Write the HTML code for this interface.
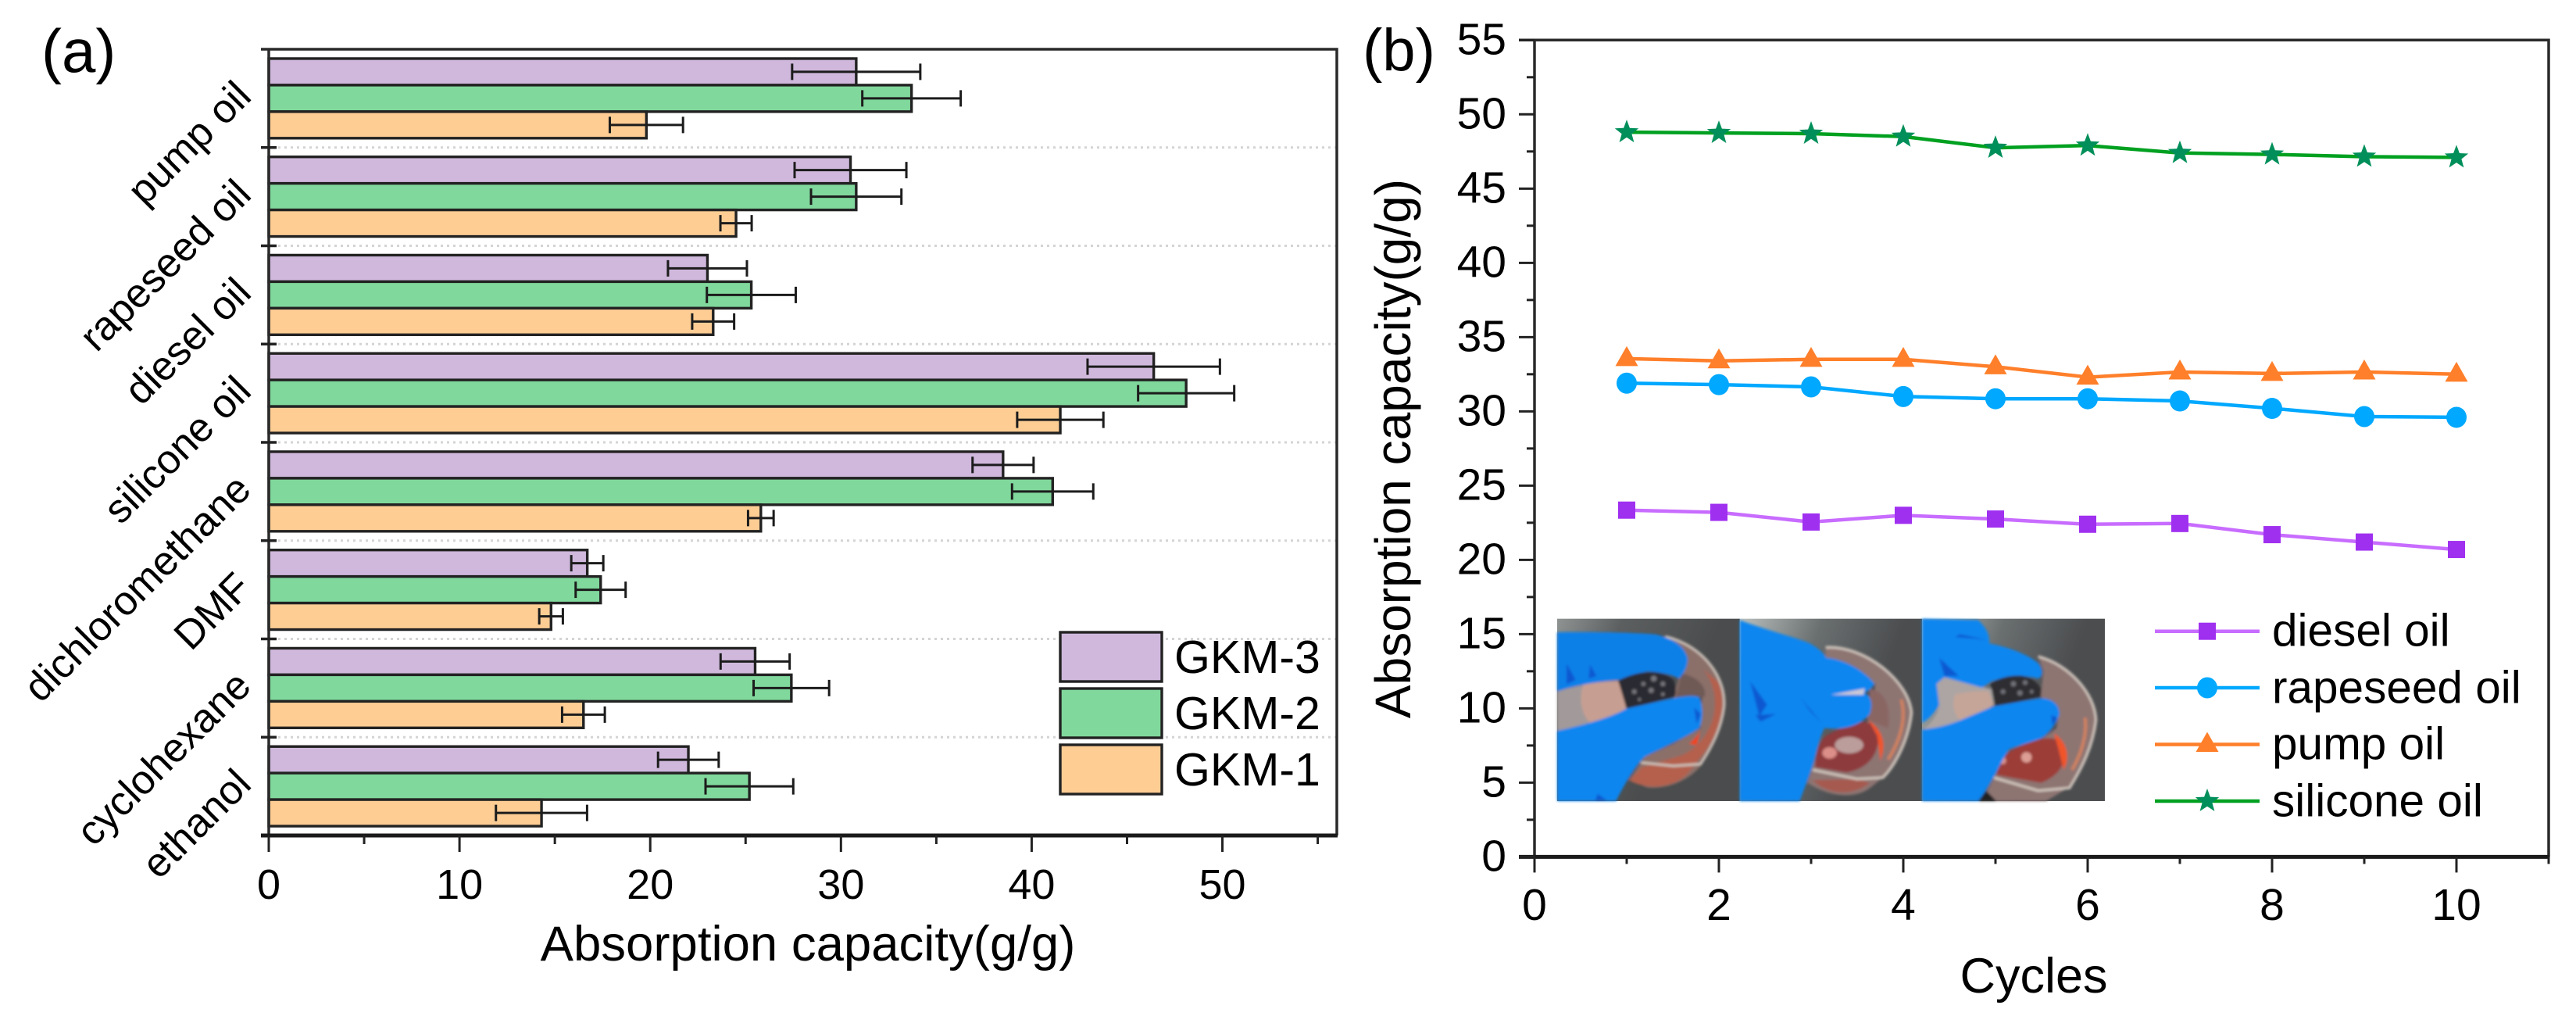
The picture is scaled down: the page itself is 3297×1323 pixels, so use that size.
<!DOCTYPE html>
<html lang="en">
<head>
<meta charset="utf-8">
<title>Absorption capacity charts</title>
<style>
html,body{margin:0;padding:0;background:#fff;}
#figure{display:block;width:3297px;height:1323px;font-family:"Liberation Sans",sans-serif;fill:#000;}
</style>
</head>
<body>
<svg id="figure" xmlns="http://www.w3.org/2000/svg" width="3297" height="1323" viewBox="0 0 3297 1323">
  <defs>
    <filter id="soft" x="-5%" y="-5%" width="110%" height="110%"><feGaussianBlur stdDeviation="5"/></filter>
    <filter id="softer" x="-20%" y="-20%" width="140%" height="140%"><feGaussianBlur stdDeviation="12"/></filter>
    <linearGradient id="bg1" x1="0" y1="0" x2="0.75" y2="0.35"><stop offset="0" stop-color="#8f9493"/><stop offset="0.4" stop-color="#5c5f60"/><stop offset="1" stop-color="#4a4c4d"/></linearGradient>
    <linearGradient id="bg2" x1="0" y1="0" x2="0.8" y2="0.3"><stop offset="0" stop-color="#b9bfbd"/><stop offset="0.5" stop-color="#6a6f70"/><stop offset="1" stop-color="#4b4d4f"/></linearGradient>
  </defs>
  <rect width="3297" height="1323" fill="#fff"/>
  <g id="chartA"></g>
  <g id="chartB"></g>
  <g id="inset">
    <g transform="translate(1985,785) scale(0.3333)">
      <rect x="24" y="20" width="702" height="700" fill="url(#bg1)"/>
      <g filter="url(#soft)">
        <path d="M430,85 C570,110 665,240 668,350 C665,430 620,520 575,585 C530,640 450,675 370,668 L300,640 L360,550 L470,500 L575,440 L580,320 L470,325 L490,250 L525,170 Z" fill="#8b6f69"/>
        <path d="M500,230 C560,240 600,280 590,320 L480,325 Z" fill="#6f5a56"/>
        <path d="M585,215 C630,270 640,340 620,410 C600,470 560,520 500,545 L350,590 L300,640 C370,680 470,670 525,615 L600,520 C650,440 680,340 640,260 Z" fill="#b4604e"/>
        <path d="M530,500 C555,480 570,460 575,445 L560,505 Z" fill="#f0431a"/>
        <path d="M440,88 C590,125 675,250 665,360 C655,440 620,510 575,578 L470,585 L345,572" fill="none" stroke="#cfc4bc" stroke-width="9"/>
        <path d="M24,300 C80,280 180,262 262,258 L290,365 C230,400 120,430 24,450 Z" fill="#a29a9a"/>
        <path d="M125,272 C170,264 220,260 262,258 L290,365 C250,385 200,405 150,418 C110,380 110,310 125,272 Z" fill="#c79f92"/>
        <path d="M24,72 C150,70 300,72 400,80 C450,90 510,115 525,170 C528,205 505,240 490,250 C470,235 420,225 370,222 L260,255 C180,262 90,275 24,300 Z" fill="#0c80e8"/>
        <path d="M24,450 C120,430 230,400 290,365 L470,325 C510,318 550,312 570,322 C585,350 585,410 570,440 C530,470 420,520 360,550 C320,590 280,660 250,720 L24,720 Z" fill="#0a86f0"/>
        <path d="M60,190 L95,255 L60,272 Z M150,195 L175,240 L145,250 Z M550,360 L575,385 L560,425 Z M180,692 L215,718 L170,718 Z" fill="#0b58d0"/>
        <path d="M258,258 C290,240 340,225 370,225 C410,222 450,232 470,255 C482,280 482,305 475,320 L380,345 L290,365 C280,330 270,295 258,258 Z" fill="#2b2b30"/>
        <g fill="#77777e"><circle cx="320" cy="300" r="9"/><circle cx="355" cy="270" r="8"/><circle cx="395" cy="250" r="11"/><circle cx="430" cy="270" r="9"/><circle cx="385" cy="295" r="10"/><circle cx="430" cy="310" r="7"/><circle cx="340" cy="330" r="6"/></g>
      </g>
    </g>
    <g transform="translate(2220,785) scale(0.3333)">
      <rect x="20" y="20" width="700" height="700" fill="url(#bg2)"/>
      <g filter="url(#soft)">
        <path d="M350,130 C500,115 670,260 682,380 C675,480 620,580 570,630 L520,670 C470,710 370,710 280,650 L310,560 L530,400 L540,270 L350,170 Z" fill="#8d7472"/>
        <path d="M520,290 C590,300 600,380 590,440 L510,410 Z" fill="#8a6664"/>
        <path d="M350,470 C440,420 510,395 550,440 C565,530 520,595 430,610 L310,590 C310,540 320,500 350,470 Z" fill="#8e3a3c"/>
        <path d="M515,410 C570,450 585,500 560,565 L548,470 Z" fill="#f0552a"/>
        <path d="M640,330 C660,400 640,480 590,560" fill="none" stroke="#d2815e" stroke-width="12"/>
        <ellipse cx="365" cy="535" rx="28" ry="22" fill="#dc8f88"/>
        <ellipse cx="440" cy="505" rx="55" ry="32" fill="#bb9d9b"/>
        <path d="M300,640 C360,700 460,700 520,650 L470,635 Z" fill="#a65a50"/>
        <path d="M350,130 C500,120 670,260 680,380 C670,480 620,580 570,630 L470,635 L300,600" fill="none" stroke="#cfc4bc" stroke-width="10"/>
        <path d="M20,25 C110,60 230,90 290,115 C325,135 345,155 352,170 C420,175 500,220 538,270 C525,290 510,300 500,305 C525,320 532,345 520,385 C490,420 440,450 345,440 C320,490 310,560 295,600 L250,720 L20,720 Z" fill="#0a86f0"/>
        <path d="M60,260 L125,350 L95,395 Z M255,325 L335,420 L290,375 Z M80,390 L160,385 L100,415 Z" fill="#0b58d0"/>
        <path d="M370,312 L500,288 L495,312 Z" fill="#ccc9d4"/>
      </g>
    </g>
    <g transform="translate(2452,785) scale(0.3333)">
      <rect x="24" y="20" width="702" height="700" fill="url(#bg2)"/>
      <g filter="url(#soft)">
        <path d="M470,165 C590,195 690,310 694,410 C685,510 625,610 585,670 L500,720 L290,720 L270,690 L310,610 L540,440 L550,370 L480,320 L490,220 Z" fill="#8d7472"/>
        <path d="M360,530 C440,485 510,465 555,490 C590,560 560,620 480,650 L310,620 C320,580 330,550 360,530 Z" fill="#9c3e38"/>
        <path d="M530,460 C580,490 595,550 568,600 L545,510 Z" fill="#f0552a"/>
        <path d="M650,400 C660,470 630,550 600,600" fill="none" stroke="#d2815e" stroke-width="12"/>
        <ellipse cx="425" cy="552" rx="20" ry="20" fill="#dd9f95"/>
        <ellipse cx="335" cy="565" rx="12" ry="14" fill="#d8918a"/>
        <path d="M470,165 C590,195 690,310 692,410 C680,510 640,590 590,670 L470,680 L300,630" fill="none" stroke="#cfc4bc" stroke-width="10"/>
        <path d="M80,270 L110,245 L290,290 L300,350 C260,380 210,400 170,412 C120,430 70,440 30,445 C60,420 85,385 90,350 Z" fill="#aca5a4"/>
        <path d="M150,310 C190,300 240,295 280,300 L300,350 C260,380 210,400 170,412 C140,380 140,340 150,310 Z" fill="#c4a598"/>
        <path d="M24,20 L240,25 C265,50 285,75 282,115 C340,125 420,150 470,190 C490,215 490,240 470,250 C420,235 360,240 290,260 L255,285 L110,245 L80,270 L90,350 C70,385 45,410 24,420 Z" fill="#0a86f0"/>
        <path d="M90,170 L165,240 L110,240 Z M150,90 L270,100 L170,80 Z" fill="#0b58d0"/>
        <path d="M24,445 C80,440 120,430 170,410 L300,355 L480,325 C520,325 550,345 552,385 C540,430 500,470 480,480 C440,495 400,505 360,520 C330,560 300,640 240,720 L24,720 Z" fill="#0a86f0"/>
        <path d="M520,390 L545,400 L525,430 Z" fill="#0b58d0"/>
        <path d="M240,720 L270,680 L310,720 Z" fill="#222"/>
        <path d="M285,270 C320,245 360,238 400,238 C440,240 470,265 482,290 L480,320 L390,340 L305,355 C300,325 295,295 285,270 Z" fill="#2e2e33"/>
        <g fill="#72727a"><circle cx="335" cy="300" r="9"/><circle cx="375" cy="270" r="10"/><circle cx="420" cy="265" r="9"/><circle cx="400" cy="305" r="10"/><circle cx="445" cy="300" r="7"/></g>
      </g>
    </g>
  </g>
</svg>
<script>
// ---------- Panel (a) data ----------
const categories = ["pump oil","rapeseed oil","diesel oil","silicone oil","dichloromethane","DMF","cyclohexane","ethanol"];
const gkm3Values = [30.8,30.5,23.0,46.4,38.5,16.7,25.5,22.0];
const gkm2Values = [33.7,30.8,25.3,48.1,41.1,17.4,27.4,25.2];
const gkm1Values = [19.8,24.5,23.3,41.5,25.8,14.8,16.5,14.3];
const gkm3Errors = [3.36,2.93,2.07,3.47,1.60,0.84,1.81,1.59];
const gkm2Errors = [2.58,2.37,2.33,2.52,2.13,1.31,1.98,2.30];
const gkm1Errors = [1.92,0.82,1.10,2.26,0.67,0.62,1.12,2.39];
const barSeriesNames = ["GKM-3","GKM-2","GKM-1"];
const barTickLabels = [0,10,20,30,40,50];

// ---------- Panel (b) data ----------
const cycles = [1,2,3,4,5,6,7,8,9,10];
const dieselValues = [23.35,23.2,22.55,23.0,22.75,22.4,22.45,21.7,21.2,20.7];
const rapeseedValues = [31.9,31.8,31.65,31.0,30.85,30.85,30.7,30.2,29.65,29.6];
const pumpValues = [33.55,33.4,33.5,33.5,33.0,32.3,32.65,32.55,32.65,32.5];
const siliconeValues = [48.8,48.75,48.7,48.5,47.75,47.9,47.4,47.3,47.15,47.1];
const lineSeriesNames = ["diesel oil","rapeseed oil","pump oil","silicone oil"];
const cycleTickLabels = [0,2,4,6,8,10];
const capacityTickLabels = [0,5,10,15,20,25,30,35,40,45,50,55];

const NS = "http://www.w3.org/2000/svg";
const barFills = ["#cfb8dc","#80d89c","#fdcd94"];
const lineColors = ["#c86cff","#00a8ff","#ff7f2a","#00a020"];
const markerColors = ["#a030f0","#00a8ff","#ff7f2a","#008f5a"];

function mk(tag, attrs, parent) {
  const node = document.createElementNS(NS, tag);
  for (const k in attrs) node.setAttribute(k, attrs[k]);
  parent.appendChild(node);
  return node;
}
function txt(str, attrs, parent) {
  const node = mk("text", attrs, parent);
  node.textContent = str;
  return node;
}

// ---------- Panel (a) scales ----------
const aLeft = 344, aRight = 1711, aTop = 63, aBottom = 1069, aMaxX = 56;
const ax = v => aLeft + v * (aRight - aLeft) / aMaxX;
const aBand = (aBottom - aTop) / categories.length;
const aBarH = aBand * 0.27;
const aBarY = (c, s) => aTop + c * aBand + aBand * 0.095 + s * aBarH;

const chartA = document.getElementById("chartA");
const barValues = [gkm3Values, gkm2Values, gkm1Values];
const barErrors = [gkm3Errors, gkm2Errors, gkm1Errors];

categories.forEach((name, c) => {
  if (c > 0) {
    const gy = aTop + c * aBand;
    const grid = mk("line", {x1: aLeft + 12, x2: aRight, y1: gy, y2: gy, stroke: "#d4d4d4", "stroke-width": 3, "stroke-dasharray": "3 5"}, chartA);
    
    
  }
});
barValues.forEach((vals, s) => {
  vals.forEach((v, c) => {
    const bar = mk("rect", {x: ax(0), y: aBarY(c, s), width: ax(v) - ax(0), height: aBarH, fill: barFills[s], stroke: "#222", "stroke-width": 3.4}, chartA);
    
    
  });
});
barValues.forEach((vals, s) => {
  vals.forEach((v, c) => {
    const e = barErrors[s][c];
    const cy = aBarY(c, s) + aBarH / 2;
    const err = mk("path", {d: `M${ax(v - e)},${cy - 10.5}V${cy + 10.5}M${ax(v - e)},${cy}H${ax(v + e)}M${ax(v + e)},${cy - 10.5}V${cy + 10.5}`, fill: "none", stroke: "#1c1c1c", "stroke-width": 3}, chartA);
    
    
  });
});

const aFrame = mk("path", {d: `M${aLeft - 10},${aTop}H${aRight}V${aBottom}`, fill: "none", stroke: "#2a2a2a", "stroke-width": 3.5}, chartA);


const aYAxis = mk("line", {x1: aLeft, x2: aLeft, y1: aTop, y2: aBottom, stroke: "#2a2a2a", "stroke-width": 3.5}, chartA);


const aXAxis = mk("line", {x1: aLeft - 10, x2: aRight + 1, y1: aBottom, y2: aBottom, stroke: "#1a1a1a", "stroke-width": 5}, chartA);



for (let c = 1; c < categories.length; c++) {
  const ty = aTop + c * aBand;
  const tick = mk("line", {x1: aLeft - 10, x2: aLeft + 10, y1: ty, y2: ty, stroke: "#222", "stroke-width": 3.5}, chartA);
  
  
}
categories.forEach((name, c) => {
  const ly = aTop + (c + 0.5) * aBand;
  const lab = txt(name, {x: 324, y: ly, "font-size": 52, "text-anchor": "end", transform: `rotate(-45 324 ${ly})`}, chartA);
  
  
});
for (let t = 0; t <= 55; t += 5) {
  const major = t % 10 === 0;
  const tick = mk("line", {x1: ax(t), x2: ax(t), y1: aBottom, y2: aBottom + (major ? 21 : 11), stroke: "#222", "stroke-width": 3}, chartA);
  
  
}
barTickLabels.forEach(t => {
  const lab = txt(String(t), {x: ax(t), y: 1150, "font-size": 54, "text-anchor": "middle"}, chartA);
  
  
});
const aTitle = txt("Absorption capacity(g/g)", {x: 1034, y: 1229, "font-size": 63.5, "text-anchor": "middle"}, chartA);


const aPanel = txt("(a)", {x: 53, y: 92, "font-size": 78}, chartA);



const aLegendY = [809, 881, 953];
barSeriesNames.forEach((name, s) => {
  const box = mk("rect", {x: 1357, y: aLegendY[s], width: 130, height: 63, fill: barFills[s], stroke: "#222", "stroke-width": 3.4}, chartA);
  
  
  const lab = txt(name, {x: 1503, y: aLegendY[s] + 52, "font-size": 59}, chartA);
  
  
});

// ---------- Panel (b) scales ----------
const bLeft = 1964, bRight = 3262, bTop = 51.3, bBottom = 1096.4, bMaxX = 11, bMaxY = 55;
const bx = v => bLeft + v * (bRight - bLeft) / bMaxX;
const by = v => bBottom - v * (bBottom - bTop) / bMaxY;
const chartB = document.getElementById("chartB");

function starPoints(cx, cy, R) {
  const pts = [];
  for (let i = 0; i < 10; i++) {
    const r = i % 2 === 0 ? R : R * 0.42;
    const a = -Math.PI / 2 + i * Math.PI / 5;
    pts.push((cx + r * Math.cos(a)).toFixed(1) + "," + (cy + r * Math.sin(a)).toFixed(1));
  }
  return pts.join(" ");
}
function drawMarker(kind, cx, cy, parent) {
  const color = markerColors[kind];
  let node;
  if (kind === 0) node = mk("rect", {x: cx - 11, y: cy - 11, width: 22, height: 22, fill: color}, parent);
  if (kind === 1) node = mk("ellipse", {cx: cx, cy: cy, rx: 13, ry: 13.5, fill: color}, parent);
  if (kind === 2) node = mk("polygon", {points: `${cx},${cy - 16} ${cx + 14.5},${cy + 9.5} ${cx - 14.5},${cy + 9.5}`, fill: color}, parent);
  if (kind === 3) node = mk("polygon", {points: starPoints(cx, cy, 16), fill: color}, parent);
  return node;
}

const bFrame = mk("path", {d: `M${bLeft - 20},${bTop}H${bRight}V${bBottom}`, fill: "none", stroke: "#2a2a2a", "stroke-width": 3.5}, chartB);


const bYAxis = mk("line", {x1: bLeft, x2: bLeft, y1: bTop, y2: bBottom, stroke: "#2a2a2a", "stroke-width": 3.5}, chartB);


const bXAxis = mk("line", {x1: bLeft - 20, x2: bRight + 1, y1: bBottom, y2: bBottom, stroke: "#1a1a1a", "stroke-width": 5}, chartB);



for (let t = 0; t <= bMaxX; t++) {
  const major = t % 2 === 0;
  const tick = mk("line", {x1: bx(t), x2: bx(t), y1: bBottom, y2: bBottom + (major ? 20 : 9), stroke: "#222", "stroke-width": 3}, chartB);
  
  
}
cycleTickLabels.forEach(t => {
  const lab = txt(String(t), {x: bx(t), y: 1177, "font-size": 57, "text-anchor": "middle"}, chartB);
  
  
});
for (let t = 0; t <= bMaxY; t += 2.5) {
  const major = t % 5 === 0;
  const tick = mk("line", {x1: bLeft - (major ? 20 : 10), x2: bLeft, y1: by(t), y2: by(t), stroke: "#222", "stroke-width": 3}, chartB);
  
  
}
capacityTickLabels.forEach(t => {
  const lab = txt(String(t), {x: 1928, y: by(t) + 18, "font-size": 57, "text-anchor": "end"}, chartB);
  
  
});
const bXTitle = txt("Cycles", {x: 2603, y: 1270, "font-size": 63, "text-anchor": "middle"}, chartB);


const bYTitle = txt("Absorption capacity(g/g)", {x: 1805, y: 574, "font-size": 64, "text-anchor": "middle", transform: "rotate(-90 1805 574)"}, chartB);


const bPanel = txt("(b)", {x: 1744, y: 90, "font-size": 76}, chartB);



const lineValues = [dieselValues, rapeseedValues, pumpValues, siliconeValues];
lineValues.forEach((vals, s) => {
  const pts = vals.map((v, i) => bx(cycles[i]).toFixed(1) + "," + by(v).toFixed(1)).join(" ");
  const line = mk("polyline", {points: pts, fill: "none", stroke: lineColors[s], "stroke-width": 4.5}, chartB);
  
  
  vals.forEach((v, i) => {
    const m = drawMarker(s, bx(cycles[i]), by(v), chartB);
    
    
  });
});

const bLegendY = [807.7, 880, 952.5, 1025];
const bLegendBase = [826.7, 899.3, 971.7, 1044.3];
lineSeriesNames.forEach((name, s) => {
  const ln = mk("line", {x1: 2758, x2: 2892, y1: bLegendY[s], y2: bLegendY[s], stroke: lineColors[s], "stroke-width": 4.5}, chartB);
  
  
  const mark = drawMarker(s, 2825, bLegendY[s], chartB);
  
  
  const lab = txt(name, {x: 2908, y: bLegendBase[s], "font-size": 58.5}, chartB);
  
  
});
</script>
</body>
</html>
